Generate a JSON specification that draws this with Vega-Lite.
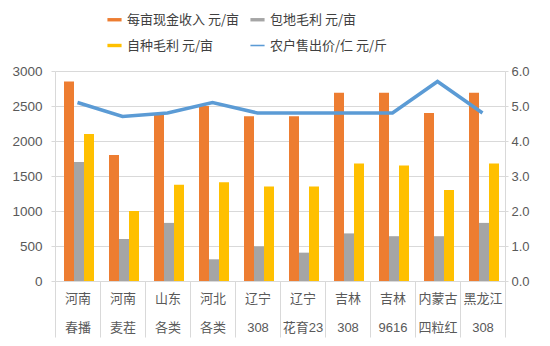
{
  "$schema": "https://vega.github.io/schema/vega-lite/v6.json",
  "autosize": {"type": "none"},
  "width": 450,
  "height": 210,
  "padding": {"left": 55, "top": 71, "right": 45, "bottom": 65},
  "background": "white",
  "config": {
    "font": "Liberation Sans, Noto Sans CJK SC, sans-serif",
    "view": {"stroke": null},
    "axis": {"labelFont": "Liberation Sans, Noto Sans CJK SC, sans-serif", "labelColor": "#595959", "labelFontSize": 13}
  },
  "datasets": {
    "bars": [
      {"cat": "河南 春播", "series": "每亩现金收入 元/亩", "v": 2850},
      {"cat": "河南 春播", "series": "包地毛利 元/亩", "v": 1700},
      {"cat": "河南 春播", "series": "自种毛利 元/亩", "v": 2100},
      {"cat": "河南 麦茬", "series": "每亩现金收入 元/亩", "v": 1800},
      {"cat": "河南 麦茬", "series": "包地毛利 元/亩", "v": 600},
      {"cat": "河南 麦茬", "series": "自种毛利 元/亩", "v": 1000},
      {"cat": "山东 各类", "series": "每亩现金收入 元/亩", "v": 2380},
      {"cat": "山东 各类", "series": "包地毛利 元/亩", "v": 830},
      {"cat": "山东 各类", "series": "自种毛利 元/亩", "v": 1375},
      {"cat": "河北 各类", "series": "每亩现金收入 元/亩", "v": 2500},
      {"cat": "河北 各类", "series": "包地毛利 元/亩", "v": 310},
      {"cat": "河北 各类", "series": "自种毛利 元/亩", "v": 1410},
      {"cat": "辽宁 308", "series": "每亩现金收入 元/亩", "v": 2355},
      {"cat": "辽宁 308", "series": "包地毛利 元/亩", "v": 495},
      {"cat": "辽宁 308", "series": "自种毛利 元/亩", "v": 1350},
      {"cat": "辽宁 花育23", "series": "每亩现金收入 元/亩", "v": 2355},
      {"cat": "辽宁 花育23", "series": "包地毛利 元/亩", "v": 405},
      {"cat": "辽宁 花育23", "series": "自种毛利 元/亩", "v": 1350},
      {"cat": "吉林 308", "series": "每亩现金收入 元/亩", "v": 2690},
      {"cat": "吉林 308", "series": "包地毛利 元/亩", "v": 680},
      {"cat": "吉林 308", "series": "自种毛利 元/亩", "v": 1680},
      {"cat": "吉林 9616", "series": "每亩现金收入 元/亩", "v": 2690},
      {"cat": "吉林 9616", "series": "包地毛利 元/亩", "v": 640},
      {"cat": "吉林 9616", "series": "自种毛利 元/亩", "v": 1650},
      {"cat": "内蒙古 四粒红", "series": "每亩现金收入 元/亩", "v": 2400},
      {"cat": "内蒙古 四粒红", "series": "包地毛利 元/亩", "v": 640},
      {"cat": "内蒙古 四粒红", "series": "自种毛利 元/亩", "v": 1300},
      {"cat": "黑龙江 308", "series": "每亩现金收入 元/亩", "v": 2690},
      {"cat": "黑龙江 308", "series": "包地毛利 元/亩", "v": 830},
      {"cat": "黑龙江 308", "series": "自种毛利 元/亩", "v": 1680}
    ],
    "price": [
      {"cat": "河南 春播", "p": 5.1},
      {"cat": "河南 麦茬", "p": 4.7},
      {"cat": "山东 各类", "p": 4.8},
      {"cat": "河北 各类", "p": 5.1},
      {"cat": "辽宁 308", "p": 4.8},
      {"cat": "辽宁 花育23", "p": 4.8},
      {"cat": "吉林 308", "p": 4.8},
      {"cat": "吉林 9616", "p": 4.8},
      {"cat": "内蒙古 四粒红", "p": 5.7},
      {"cat": "黑龙江 308", "p": 4.8}
    ]
  },
  "layer": [
    {
      "data": {"name": "bars"},
      "mark": {"type": "bar"},
      "encoding": {
        "x": {
          "field": "cat", "type": "nominal", "sort": null,
          "scale": {"paddingInner": 0, "paddingOuter": 0},
          "axis": {
            "title": null, "labelAngle": 0, "labelExpr": "split(datum.label, ' ')",
            "labelLineHeight": 29, "labelBaseline": "top",
            "tickBand": "extent", "tickSize": 56, "tickColor": "#d9d9d9", "tickWidth": 1,
            "domainColor": "#d9d9d9", "labelPadding": -45, "grid": false
          }
        },
        "xOffset": {
          "field": "series", "type": "nominal",
          "sort": ["每亩现金收入 元/亩", "包地毛利 元/亩", "自种毛利 元/亩"],
          "scale": {"paddingInner": 0, "paddingOuter": 0.75, "align": 0.6}
        },
        "y": {
          "field": "v", "type": "quantitative",
          "scale": {"domain": [0, 3000]},
          "axis": {
            "title": null, "format": "d", "values": [0, 500, 1000, 1500, 2000, 2500, 3000],
            "gridColor": "#d9d9d9", "domainColor": "#d9d9d9", "tickColor": "#d9d9d9",
            "tickSize": 4, "labelPadding": 9, "labelFontSize": 13.5
          }
        },
        "color": {
          "field": "series", "type": "nominal",
          "scale": {
            "domain": ["每亩现金收入 元/亩", "自种毛利 元/亩", "包地毛利 元/亩", "农户售出价/仁 元/斤"],
            "range": ["#ed7d31", "#ffc000", "#a5a5a5", "#5b9bd5"]
          },
          "legend": {
            "title": null, "orient": "none", "legendX": 52, "legendY": -59,
            "columns": 2, "columnPadding": 10, "rowPadding": 11,
            "symbolType": "M-1,-0.25H1V0.25H-1Z", "symbolSize": 200,
            "symbolStrokeWidth": 0, "labelFontSize": 13, "labelColor": "#404040",
            "labelFont": "Noto Sans CJK SC, sans-serif", "labelOffset": 5,
            "encode": {
              "symbols": {
                "update": {
                  "shape": {"signal": "datum.value === '农户售出价/仁 元/斤' ? 'M-1,-0.11H1V0.11H-1Z' : 'M-1,-0.24H1V0.24H-1Z'"}
                }
              }
            }
          }
        }
      }
    },
    {
      "data": {"name": "price"},
      "mark": {"type": "line", "strokeWidth": 3.5, "color": "#5b9bd5"},
      "encoding": {
        "x": {"field": "cat", "type": "nominal", "sort": null},
        "y": {
          "field": "p", "type": "quantitative",
          "scale": {"domain": [0, 6]},
          "axis": {
            "title": null, "orient": "right", "format": ".1f", "values": [0, 1, 2, 3, 4, 5, 6],
            "grid": false, "domainColor": "#d9d9d9", "tickColor": "#d9d9d9", "tickSize": 3, "labelPadding": 3
          }
        },
        "color": {"datum": "农户售出价/仁 元/斤"}
      }
    }
  ],
  "resolve": {"scale": {"y": "independent"}}
}
